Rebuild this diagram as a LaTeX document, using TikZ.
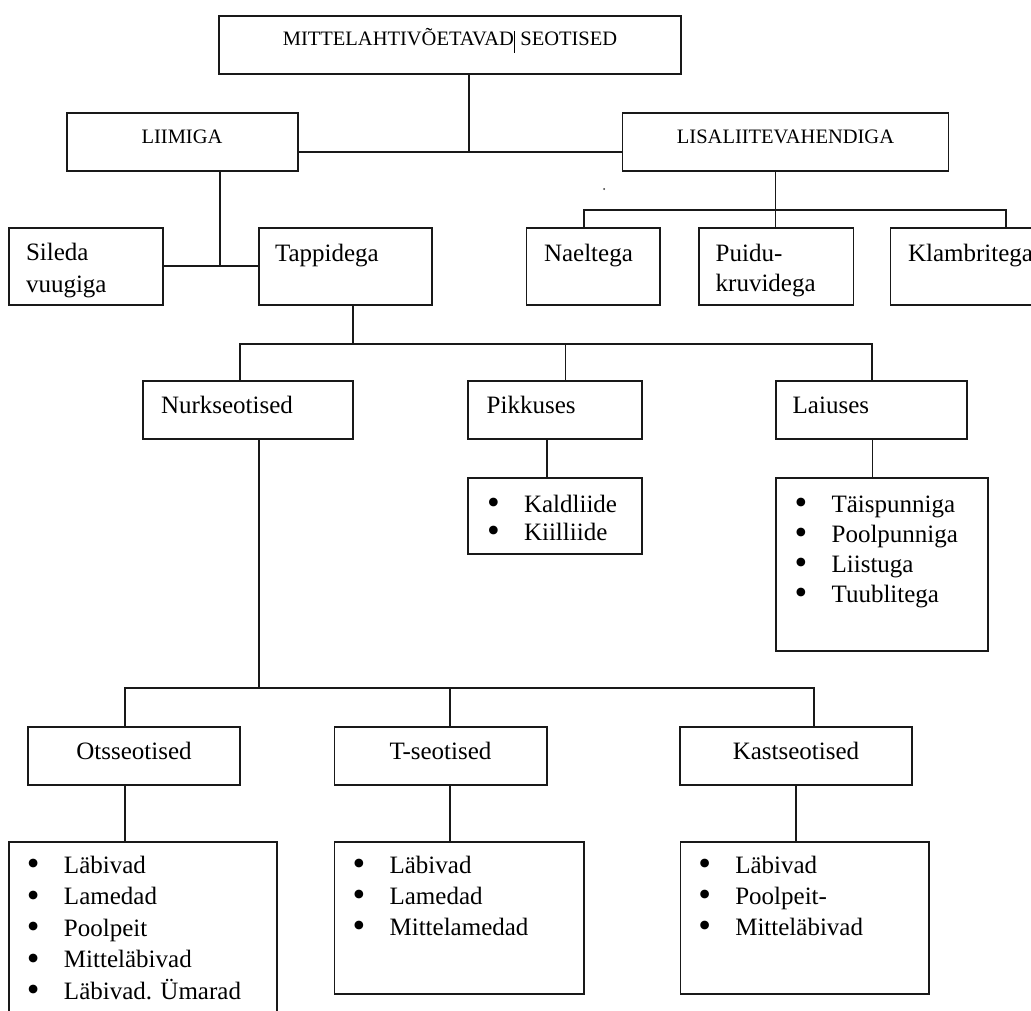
\documentclass[tikz,border=0pt]{standalone}
\usepackage{fontspec}
\setmainfont{Liberation Serif}
\usetikzlibrary{fit}
\tikzset{
  box/.style={draw=black!90, line width=1.6pt, inner sep=0pt, outer sep=0pt, rectangle},
  conn/.style={draw=black!90, line width=1.6pt},
  lbl/.style={inner sep=0pt, outer sep=0pt, font=\fontsize{25}{31}\selectfont, text=black},
  caps/.style={inner sep=0pt, outer sep=0pt, font=\fontsize{20.5}{24}\selectfont, text=black},
}
\newcommand\mkbox[5]{%
  \coordinate (#1-nw) at (#2,#3);
  \coordinate (#1-se) at (#4,#5);
  \node[box, fit=(#1-nw)(#1-se)] (#1) {};}
\newcommand\bl[1]{\makebox[37pt][l]{\smash{\raisebox{-2.6pt}{\scalebox{1.45}{•}}}}#1}
\newcommand\lst[2]{\fontsize{25}{#1}\selectfont\begin{tabular}[t]{@{}l@{}}#2\end{tabular}}
\begin{document}
\begin{tikzpicture}[x=1pt,y=-1pt]
\useasboundingbox (0,0) rectangle (1031,1010);
\clip (0,0) rectangle (1031,1010);
\fill[white] (0,0) rectangle (1031,1010);

% boxes
\mkbox{top}{219}{16}{681}{74}
\mkbox{liimiga}{67}{113}{298}{171}
\mkbox{lisal}{622.5}{113}{948.5}{171}
\mkbox{sileda}{9}{228}{163}{305}
\mkbox{tapp}{259}{228}{432}{305}
\mkbox{nael}{526.5}{228}{660}{305}
\mkbox{puidu}{699}{228}{853.5}{305}
\mkbox{klamb}{890.5}{228}{1060}{305}
\mkbox{nurk}{143}{381}{353}{439}
\mkbox{pikk}{468}{381}{642}{439}
\mkbox{laius}{776}{381}{967}{439}
\mkbox{kald}{468}{478}{642}{554}
\mkbox{laiusl}{776}{478}{988}{651}
\mkbox{ots}{28}{727}{240}{785}
\mkbox{tseo}{334.5}{727}{547}{785}
\mkbox{kast}{680}{727}{912}{785}
\mkbox{otsl}{9}{842}{277}{1050}
\mkbox{tseol}{334.5}{842}{584}{994}
\mkbox{kastl}{680.5}{842}{929}{994}

% junction coordinates
\coordinate (j0) at (469,152);
\coordinate (j1) at (220,266);
\coordinate (j2) at (775.3,210);
\coordinate (j3) at (353,344);
\coordinate (j4) at (259,688);

% connectors
\draw[conn] (j0 |- top.south) -- (j0);
\draw[conn] (liimiga.east |- j0) -- (lisal.west |- j0);
\draw[conn] (j1 |- liimiga.south) -- (j1);
\draw[conn] (sileda.east |- j1) -- (tapp.west |- j1);
\draw[conn] (j2 |- lisal.south) -- (j2 |- puidu.north);
\draw[conn] (584,228) coordinate (cn) (cn |- nael.north) |- (j2) -| (1005.7,228) coordinate (ck);
\draw[conn] (j3 |- tapp.south) -- (j3);
\draw[conn] (240,344) coordinate (cnu) (cnu |- nurk.north) |- (j3) -| (872,381) coordinate (cla);
\draw[conn] (565.5,344) coordinate (cpi) -- (cpi |- pikk.north);
\draw[conn] (547,439) coordinate (cpk) (cpk |- pikk.south) -- (cpk |- kald.north);
\draw[conn] (872.5,439) coordinate (clk) (clk |- laius.south) -- (clk |- laiusl.north);
\draw[conn] (j4 |- nurk.south) -- (j4);
\draw[conn] (125,688) coordinate (co) (co |- ots.north) |- (j4) -| (814,727) coordinate (cka);
\draw[conn] (450,688) coordinate (ct) -- (ct |- tseo.north);
\draw[conn] (co |- ots.south) -- (co |- otsl.north);
\draw[conn] (ct |- tseo.south) -- (ct |- tseol.north);
\draw[conn] (796,785) coordinate (ckl) (ckl |- kast.south) -- (ckl |- kastl.north);

% stray dot
\fill[black!80] (604,189) circle (1pt);

% labels
\node[caps, anchor=base] (top-t) at (450,45) {MITTELAHTIVÕETAVAD\rule[-7.5pt]{1.4pt}{22pt} SEOTISED};
\node[caps, anchor=base] (liimiga-t) at (182,143) {LIIMIGA};
\node[caps, anchor=base] (lisal-t) at (785.5,143) {LISALIITEVAHENDIGA};
\node[lbl, anchor=base west] (sileda-t) at (26,260) {\fontsize{25}{32}\selectfont\begin{tabular}[t]{@{}l@{}}Sileda\\vuugiga\end{tabular}};
\node[lbl, anchor=base west] (tapp-t) at (275,261) {Tappidega};
\node[lbl, anchor=base west] (nael-t) at (544,261) {Naeltega};
\node[lbl, anchor=base west] (puidu-t) at (715.7,261) {\fontsize{25}{30.5}\selectfont\begin{tabular}[t]{@{}l@{}}Puidu-\\kruvidega\end{tabular}};
\node[lbl, anchor=base west] (klamb-t) at (908,261) {Klambritega};
\node[lbl, anchor=base west] (nurk-t) at (161,413) {Nurkseotised};
\node[lbl, anchor=base west] (pikk-t) at (486.7,413) {Pikkuses};
\node[lbl, anchor=base west] (laius-t) at (792.7,413) {Laiuses};
\node[lbl, anchor=base] (ots-t) at (134,759) {Otsseotised};
\node[lbl, anchor=base] (tseo-t) at (440.5,759) {T-seotised};
\node[lbl, anchor=base] (kast-t) at (796,759) {Kastseotised};

% lists
\node[lbl, anchor=base west] (kald-t) at (487,512) {\lst{28}{\bl{Kaldliide}\\\bl{Kiilliide}}};
\node[lbl, anchor=base west] (laiusl-t) at (794.6,512) {\lst{30}{\bl{Täispunniga}\\\bl{Poolpunniga}\\\bl{Liistuga}\\\bl{Tuublitega}}};
\node[lbl, anchor=base west] (otsl-t) at (27,873) {\lst{31.5}{\bl{Läbivad}\\\bl{Lamedad}\\\bl{Poolpeit}\\\bl{Mitteläbivad}\\\bl{Läbivad. Ümarad}}};
\node[lbl, anchor=base west] (tseol-t) at (352.6,873) {\lst{31}{\bl{Läbivad}\\\bl{Lamedad}\\\bl{Mittelamedad}}};
\node[lbl, anchor=base west] (kastl-t) at (698.3,873) {\lst{31}{\bl{Läbivad}\\\bl{Poolpeit-}\\\bl{Mitteläbivad}}};
\end{tikzpicture}
\end{document}
